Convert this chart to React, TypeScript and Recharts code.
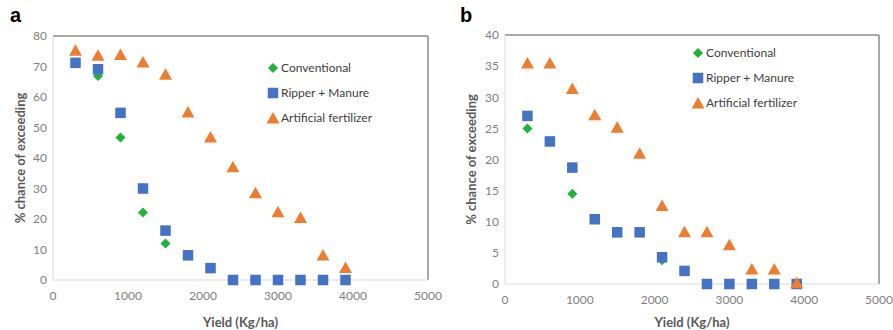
import React from 'react';
import { ScatterChart, Scatter, XAxis, YAxis, ReferenceLine, Legend } from 'recharts';

// yield classes (Kg/ha)
const yieldX = [300, 600, 900, 1200, 1500, 1800, 2100, 2400, 2700, 3000, 3300, 3600, 3900];
const xTicks = [0, 1000, 2000, 3000, 4000, 5000];

// panel a
const convA = [71.2, 66.9, 46.7, 22.1, 12.0, 8.1, 3.9, 0, 0, 0, 0, 0, 0];
const ripperA = [71.2, 69.1, 54.8, 30.0, 16.2, 8.1, 3.9, 0, 0, 0, 0, 0, 0];
const fertA = [75.3, 73.7, 73.9, 71.5, 67.5, 55.1, 46.9, 37.1, 28.6, 22.4, 20.5, 8.2, 4.1];
const yTicksA = [0, 10, 20, 30, 40, 50, 60, 70, 80];

// panel b
const convB = [25.0, 22.9, 14.5, 10.4, 8.3, 8.3, 3.8, 2.1, 0, 0, 0, 0, 0];
const ripperB = [27.0, 22.9, 18.7, 10.4, 8.3, 8.3, 4.3, 2.1, 0, 0, 0, 0, 0];
const fertB = [35.5, 35.5, 31.4, 27.2, 25.2, 21.0, 12.6, 8.4, 8.4, 6.3, 2.4, 2.4, 0.2];
const yTicksB = [0, 5, 10, 15, 20, 25, 30, 35, 40];

const seriesNames = ['Conventional', 'Ripper + Manure', 'Artificial fertilizer'];
const GREEN = '#1fb33a';
const BLUE = '#4472c4';
const ORANGE = '#ed7d31';
const FONT = 'Lato, "Open Sans", sans-serif';

const toPoints = (vals: number[]) => yieldX.map((x, i) => ({ x, y: vals[i] }));

const Diamond = (p: any) => {
  const { cx, cy, fill } = p;
  const r = 5;
  return <polygon points={`${cx},${cy - r} ${cx + r},${cy} ${cx},${cy + r} ${cx - r},${cy}`} fill={fill} />;
};
const Square = (p: any) => {
  const { cx, cy, fill } = p;
  const s = 10.5;
  return <rect x={cx - s / 2} y={cy - s / 2} width={s} height={s} fill={fill} />;
};
const Triangle = (p: any) => {
  const { cx, cy, fill } = p;
  return <polygon points={`${cx},${cy - 6} ${cx + 6.5},${cy + 5.5} ${cx - 6.5},${cy + 5.5}`} fill={fill} />;
};

const legendIcon = (i: number) => {
  if (i === 0) return <polygon points="7,2 12,7 7,12 2,7" fill={GREEN} />;
  if (i === 1) return <rect x={1.75} y={1.75} width={10.5} height={10.5} fill={BLUE} />;
  return <polygon points="7,1 13.5,12.5 0.5,12.5" fill={ORANGE} />;
};

const LegendBox = () => (
  <div style={{ fontFamily: FONT, fontSize: 12, color: '#404040' }}>
    {seriesNames.map((name, i) => (
      <div key={name} style={{ display: 'flex', alignItems: 'center', height: 25 }}>
        <svg width={14} height={14} style={{ marginRight: 1 }}>{legendIcon(i)}</svg>
        <span>{name}</span>
      </div>
    ))}
  </div>
);

const titleStyle = { fill: '#595959', fontSize: 13, fontWeight: 'bold', fontFamily: FONT };

interface PanelProps {
  letter: string;
  conv: number[];
  ripper: number[];
  fert: number[];
  yTicks: number[];
  width: number;
  margin: { top: number; right: number; bottom: number; left: number };
  yAxisWidth: number;
  yLabelOffset: number;
  xLabelOffset: number;
  legendPos: { left: number; top: number };
}

const Panel: React.FC<PanelProps> = ({ letter, conv, ripper, fert, yTicks, width, margin, yAxisWidth, yLabelOffset, xLabelOffset, legendPos }) => {
  const yMax = yTicks[yTicks.length - 1];
  return (
    <div style={{ position: 'relative', width, height: 330 }}>
      <div style={{ position: 'absolute', left: 10, top: 4, fontFamily: 'Arial, "Liberation Sans", sans-serif', fontWeight: 'bold', fontSize: 20, zIndex: 2 }}>
        {letter}
      </div>
      <ScatterChart width={width} height={330} margin={margin}>
        <XAxis
          type="number"
          dataKey="x"
          domain={[0, 5000]}
          ticks={xTicks}
          tickLine={false}
          tickSize={0}
          tickMargin={11}
          axisLine={{ stroke: '#d9d9d9' }}
          tick={{ fill: '#7f7f7f', fontSize: 12, fontFamily: FONT }}
          height={30}
          label={{ value: 'Yield (Kg/ha)', position: 'bottom', offset: xLabelOffset, style: titleStyle }}
        />
        <YAxis
          type="number"
          dataKey="y"
          domain={[0, yMax]}
          ticks={yTicks}
          tickLine={false}
          tickSize={0}
          tickMargin={6}
          axisLine={{ stroke: '#d9d9d9' }}
          width={yAxisWidth}
          tick={{ fill: '#7f7f7f', fontSize: 12, fontFamily: FONT }}
          label={{ value: '% chance of exceeding', angle: -90, position: 'insideLeft', offset: yLabelOffset, style: { ...titleStyle, textAnchor: 'middle' } }}
        />
        <ReferenceLine y={yMax} stroke="#8c8c8c" strokeWidth={1.5} />
        <ReferenceLine x={5000} stroke="#8c8c8c" strokeWidth={1.5} />
        <Scatter name={seriesNames[0]} data={toPoints(conv)} fill={GREEN} shape={Diamond} isAnimationActive={false} />
        <Scatter name={seriesNames[1]} data={toPoints(ripper)} fill={BLUE} shape={Square} isAnimationActive={false} />
        <Scatter name={seriesNames[2]} data={toPoints(fert)} fill={ORANGE} shape={Triangle} isAnimationActive={false} />
        <Legend
          layout="vertical"
          align="center"
          verticalAlign="middle"
          content={() => <LegendBox />}
          wrapperStyle={{ left: legendPos.left, top: legendPos.top, width: 'auto' }}
        />
      </ScatterChart>
    </div>
  );
};

export default function App() {
  return (
    <div style={{ position: 'absolute', left: 0, top: 0, width: 893, height: 330, background: '#fff', display: 'flex' }}>
      <Panel
        letter="a"
        conv={convA}
        ripper={ripperA}
        fert={fertA}
        yTicks={yTicksA}
        width={450}
        margin={{ top: 36, right: 22, bottom: 20, left: 0 }}
        yAxisWidth={53}
        yLabelOffset={20}
        xLabelOffset={8}
        legendPos={{ left: 266, top: 55 }}
      />
      <Panel
        letter="b"
        conv={convB}
        ripper={ripperB}
        fert={fertB}
        yTicks={yTicksB}
        width={443}
        margin={{ top: 35, right: 14, bottom: 16, left: 0 }}
        yAxisWidth={55}
        yLabelOffset={21}
        xLabelOffset={4}
        legendPos={{ left: 241, top: 40 }}
      />
    </div>
  );
}
